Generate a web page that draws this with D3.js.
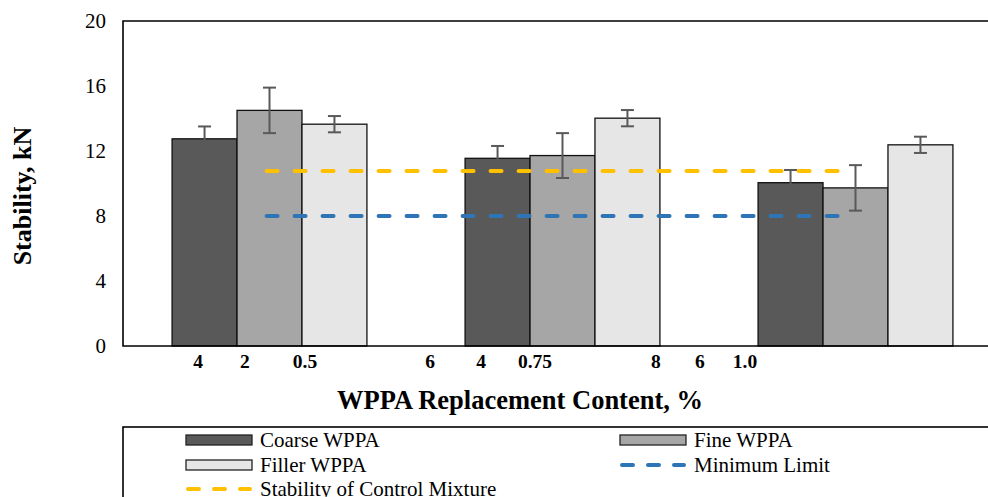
<!DOCTYPE html>
<html>
<head>
<meta charset="utf-8">
<script src="https://cdn.jsdelivr.net/npm/d3@7"></script>
<style>
  body { margin: 0; background: #fff; }
  svg { display: block; }
  svg text { font-family: "Liberation Serif", "Times New Roman", Tinos, "DejaVu Serif", serif; }
</style>
</head>
<body>
<div id="chart"></div>
<script>
// groups of the chart (one per replacement level)
var groups = ["0.5", "0.75", "1.0"];
var series = ["Coarse WPPA", "Fine WPPA", "Filler WPPA"];
var seriesColors = ["#595959", "#a6a6a6", "#e6e6e6"];

// stability (kN), one value per group for each series
var coarseValues = [12.75, 11.55, 10.05];
var fineValues = [14.5, 11.72, 9.73];
var fillerValues = [13.65, 14.02, 12.38];

// error bar half-lengths
var coarseErrors = [0.76, 0.76, 0.78];
var fineErrors = [1.4, 1.38, 1.4];
var fillerErrors = [0.5, 0.5, 0.5];

// horizontal reference lines, x given in category units
var controlStability = 10.77;
var minimumLimit = 8;
var refLineStart = 0.49;
var refLineEnd = 2.457;

// category labels below the axis, position in category units
var tickLabels = ["4", "2", "0.5", "6", "4", "0.75", "8", "6", "1.0"];
var tickLabelPos = [0.256, 0.416, 0.621, 1.048, 1.222, 1.406, 1.819, 1.969, 2.123];

var yTicks = [0, 4, 8, 12, 16, 20];

var WIDTH = 988, HEIGHT = 497;
var plot = {left: 123, top: 21, right: 1002, bottom: 346};
var FONT = "'Liberation Serif', 'Times New Roman', Tinos, 'DejaVu Serif', serif";

var svg = d3.select("#chart").append("svg")
    .attr("width", WIDTH)
    .attr("height", HEIGHT)
    .style("font-family", FONT);

var y = d3.scaleLinear().domain([0, 20]).range([plot.bottom, plot.top]);
var x = d3.scaleBand().domain(groups)
    .range([plot.left, plot.right])
    .paddingInner(0.335)
    .paddingOuter(0.1675);
var xSub = d3.scaleBand().domain(series).range([0, x.bandwidth()]);
var catPos = d3.scaleLinear().domain([0, 3]).range([plot.left, plot.right]);

var values = [coarseValues, fineValues, fillerValues];
var errors = [coarseErrors, fineErrors, fillerErrors];

// bars
var barData = [];
series.forEach(function(s, i) {
    groups.forEach(function(g, j) {
        barData.push({series: s, group: g, idx: i, value: values[i][j], err: errors[i][j]});
    });
});

svg.append("g").selectAll("rect")
    .data(barData)
    .enter().append("rect")
    .attr("x", function(d) { return x(d.group) + xSub(d.series); })
    .attr("y", function(d) { return y(d.value); })
    .attr("width", xSub.bandwidth())
    .attr("height", function(d) { return y(0) - y(d.value); })
    .attr("fill", function(d) { return seriesColors[d.idx]; })
    .attr("stroke", "#111")
    .attr("stroke-width", 1.3);

// error bars
var errG = svg.append("g")
    .attr("stroke", "#595959")
    .attr("stroke-width", 2);
barData.forEach(function(d) {
    var cx = x(d.group) + xSub(d.series) + xSub.bandwidth() / 2;
    var top = y(d.value + d.err), bot = y(d.value - d.err);
    errG.append("line").attr("x1", cx).attr("x2", cx).attr("y1", top).attr("y2", bot);
    errG.append("line").attr("x1", cx - 6.5).attr("x2", cx + 6.5).attr("y1", top).attr("y2", top);
    errG.append("line").attr("x1", cx - 6.5).attr("x2", cx + 6.5).attr("y1", bot).attr("y2", bot);
});

// reference lines
var refLines = [
    {value: controlStability, color: "#ffc000"},
    {value: minimumLimit, color: "#2e75b6"}
];
svg.append("g").selectAll("line")
    .data(refLines)
    .enter().append("line")
    .attr("x1", catPos(refLineStart))
    .attr("x2", catPos(refLineEnd))
    .attr("y1", function(d) { return y(d.value); })
    .attr("y2", function(d) { return y(d.value); })
    .attr("stroke", function(d) { return d.color; })
    .attr("stroke-width", 4)
    .attr("stroke-linecap", "round")
    .attr("stroke-dasharray", "11,17");

// plot frame (left, top, bottom)
svg.append("path")
    .attr("d", "M" + plot.right + "," + plot.top + "H" + plot.left + "V" + plot.bottom + "H" + plot.right)
    .attr("fill", "none")
    .attr("stroke", "#000")
    .attr("stroke-width", 1.6);

// y axis labels
var yAxis = d3.axisLeft(y).tickValues(yTicks).tickSize(0).tickPadding(17);
svg.append("g")
    .attr("transform", "translate(" + plot.left + ",0)")
    .call(yAxis)
    .call(function(g) {
        g.attr("font-family", null);
        g.select(".domain").remove();
        g.selectAll("text")
            .style("font-family", FONT)
            .attr("font-size", 21)
            .attr("fill", "#000");
    });

// category labels
svg.append("g").selectAll("text")
    .data(tickLabels)
    .enter().append("text")
    .attr("x", function(d, i) { return catPos(tickLabelPos[i]); })
    .attr("y", 368)
    .attr("text-anchor", "middle")
    .attr("font-size", 19.5)
    .attr("font-weight", "bold")
    .text(function(d) { return d; });

// axis titles
svg.append("text")
    .attr("x", 520)
    .attr("y", 409)
    .attr("text-anchor", "middle")
    .attr("font-size", 26.5)
    .attr("font-weight", "bold")
    .text("WPPA Replacement Content, %");

svg.append("text")
    .attr("transform", "translate(31,196) rotate(-90)")
    .attr("text-anchor", "middle")
    .attr("font-size", 26)
    .attr("font-weight", "bold")
    .text("Stability, kN");

// legend
var legend = svg.append("g");
legend.append("rect")
    .attr("x", plot.left)
    .attr("y", 427)
    .attr("width", 900)
    .attr("height", 100)
    .attr("fill", "#fff")
    .attr("stroke", "#000")
    .attr("stroke-width", 1.6);

var legendItems = [
    {label: "Coarse WPPA", type: "bar", color: seriesColors[0], x: 186, y: 440},
    {label: "Fine WPPA", type: "bar", color: seriesColors[1], x: 620, y: 440},
    {label: "Filler WPPA", type: "bar", color: seriesColors[2], x: 186, y: 465},
    {label: "Minimum Limit", type: "line", color: "#2e75b6", x: 620, y: 465},
    {label: "Stability of Control Mixture", type: "line", color: "#ffc000", x: 186, y: 489}
];

legendItems.forEach(function(item) {
    if (item.type === "bar") {
        legend.append("rect")
            .attr("x", item.x)
            .attr("y", item.y - 5)
            .attr("width", 66)
            .attr("height", 10)
            .attr("fill", item.color)
            .attr("stroke", "#222")
            .attr("stroke-width", 1.3);
    } else {
        legend.append("line")
            .attr("x1", item.x + 2)
            .attr("x2", item.x + 64)
            .attr("y1", item.y)
            .attr("y2", item.y)
            .attr("stroke", item.color)
            .attr("stroke-width", 4)
            .attr("stroke-linecap", "round")
            .attr("stroke-dasharray", "11,15");
    }
    legend.append("text")
        .attr("x", item.x + 74)
        .attr("y", item.y + 7)
        .attr("font-size", 21)
        .text(item.label);
});
</script>
</body>
</html>
